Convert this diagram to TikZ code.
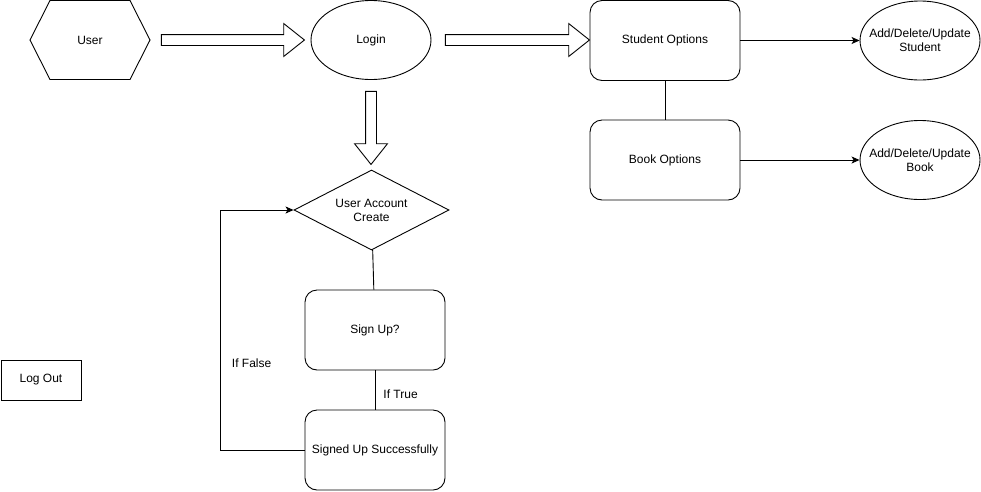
\documentclass[tikz,border=0pt]{standalone}
\usepackage{fontspec}
\setmainfont{Liberation Sans}
\usetikzlibrary{shapes.geometric,shapes.arrows,arrows.meta}

\begin{document}
\begin{tikzpicture}[x=1pt, y=-1pt, line width=0.9pt,
        every node/.style={font=\fontsize{12}{14}\selectfont, inner sep=0pt},
        optbox/.style={draw, rounded corners=12pt, minimum width=150pt, minimum height=80pt},
        stepbox/.style={draw, rounded corners=12pt, minimum width=140pt, minimum height=80pt},
        oval/.style={draw, ellipse, inner xsep=-10pt, minimum width=120pt, minimum height=79pt, align=center},
        hollow/.style={draw, single arrow, inner xsep=0pt, inner ysep=5pt, single arrow head extend=11pt,
            single arrow tip angle=77},
        arr/.style={-{Stealth[length=8pt, width=7pt, inset=2pt]}}]
    \useasboundingbox (0,0) rectangle (981,491);

    % user hexagon
    \draw (30,40) -- (50,0.5) -- (130,0.5) -- (150,40) -- (130,79.5) -- (50,79.5) -- cycle;
    \node (user) at (90,40) {User};

    \node[oval] (login) at (371,40) {Login};
    \node[optbox] (student) at (665,40.5) {Student Options};
    \node[optbox] (book) at (665,160) {Book Options};
    \node[oval] (addstu) at (920,40.5) {Add/Delete/Update\\Student};
    \node[oval] (addbook) at (920,160) {Add/Delete/Update\\Book};

    % big hollow arrows
    \node[hollow, minimum height=143pt] (arrowa) at (229.5,40) {};
    \node[hollow, minimum height=144pt] (arrowb) at (514,40) {};
    \node[hollow, minimum height=73pt, rotate=-90] (arrowc) at (371,124.5) {};

    \node[draw, diamond, aspect=2, minimum width=155pt, minimum height=80pt, align=center]
        (account) at (371.5,210) {User Account\\Create};
    \node[stepbox] (signup) at (375,330) {Sign Up?};
    \node[stepbox] (success) at (375,450) {Signed Up Successfully};
    \node[draw, minimum width=80pt, minimum height=40pt] (logout) at (41,380) {Log Out};

    \draw[arr] (student) -- (addstu);
    \draw[arr] (book) -- (addbook);
    \draw (student) -- (book);

    \draw (account) -- (signup);
    \draw (signup) -- node[pos=0.6, right=8pt] (iftrue) {If True} (success);
    \coordinate (loop) at (220.5,450);
    \draw[arr] (success.west) -- (loop) |- node[pos=0.18, right=11pt] (iffalse) {If False} (account.west);
\end{tikzpicture}
\end{document}
